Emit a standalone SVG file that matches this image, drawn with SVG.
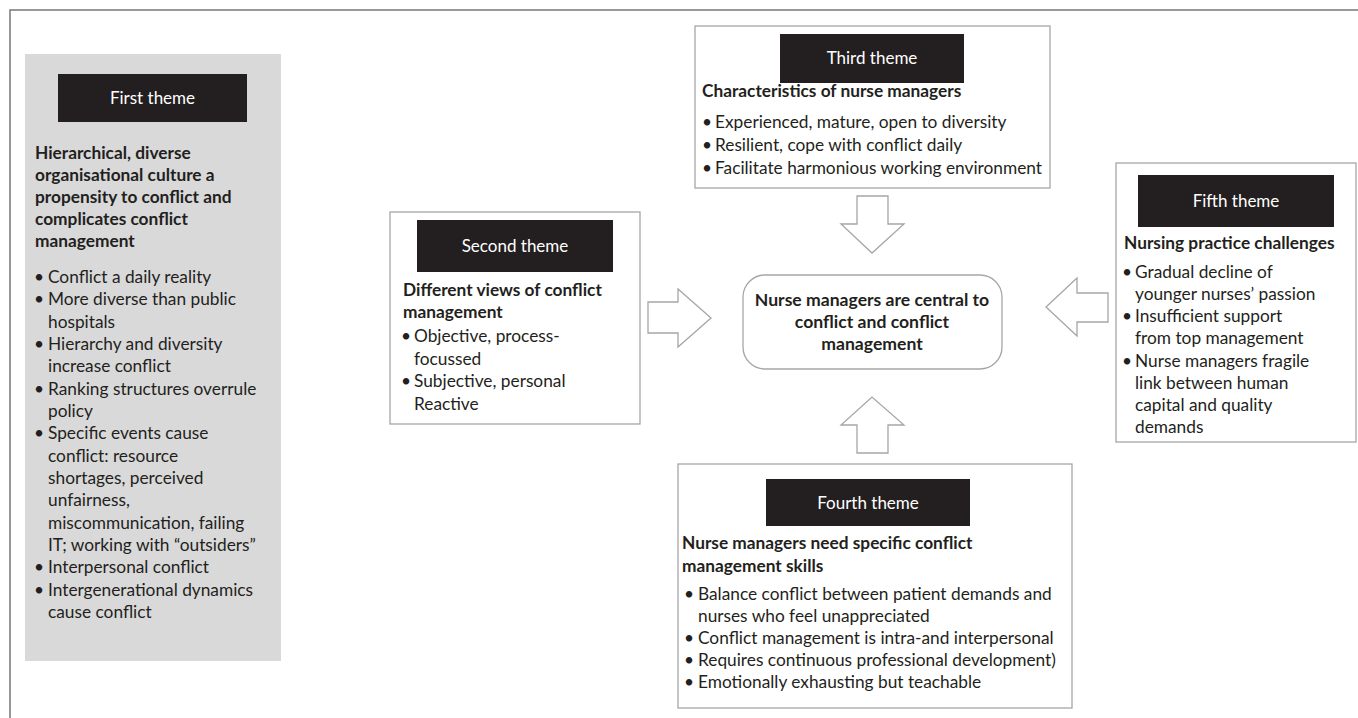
<svg xmlns="http://www.w3.org/2000/svg" width="1358" height="718" viewBox="0 0 1358 718">
<style>
  text { font-family: Lato, "Open Sans", "Liberation Sans", sans-serif; fill: #231f20; font-size: 17.3px; }
  .b { font-weight: bold; }
  .lbl { fill: #ffffff; text-anchor: middle; font-size: 17px; }
  .box { fill: #ffffff; stroke: #a6a6a6; stroke-width: 1.3; }
  .tag { fill: #231f20; }
  .arr { fill: #ffffff; stroke: #a6a6a6; stroke-width: 1.3; stroke-linejoin: miter; }
  .c { text-anchor: middle; font-size: 17.6px; font-weight: bold; }
</style>
<rect x="0" y="0" width="1358" height="718" fill="#ffffff"/>
<path d="M10 718 V10 H1358" fill="none" stroke="#777777" stroke-width="1.5"/>

<g id="first-theme">
  <rect x="25" y="54" width="256" height="607" fill="#d9d9d9"/>
  <rect class="tag" x="58" y="74" width="189" height="48"/>
  <text class="lbl" x="152.5" y="104">First theme</text>
  <text class="b" x="35" y="159">Hierarchical, diverse</text>
  <text class="b" x="35" y="181">organisational culture a</text>
  <text class="b" x="35" y="203">propensity to conflict and</text>
  <text class="b" x="35" y="225">complicates conflict</text>
  <text class="b" x="35" y="247">management</text>
  <text x="34" y="283">•</text><text x="48" y="283">Conflict a daily reality</text>
  <text x="34" y="305">•</text><text x="48" y="305">More diverse than public</text>
  <text x="48" y="328">hospitals</text>
  <text x="34" y="350">•</text><text x="48" y="350">Hierarchy and diversity</text>
  <text x="48" y="372">increase conflict</text>
  <text x="34" y="394.5">•</text><text x="48" y="394.5">Ranking structures overrule</text>
  <text x="48" y="417">policy</text>
  <text x="34" y="439">•</text><text x="48" y="439">Specific events cause</text>
  <text x="48" y="461.5">conflict: resource</text>
  <text x="48" y="484">shortages, perceived</text>
  <text x="48" y="506">unfairness,</text>
  <text x="48" y="528.5">miscommunication, failing</text>
  <text x="48" y="551">IT; working with “outsiders”</text>
  <text x="34" y="573">•</text><text x="48" y="573">Interpersonal conflict</text>
  <text x="34" y="595.5">•</text><text x="48" y="595.5">Intergenerational dynamics</text>
  <text x="48" y="618">cause conflict</text>
</g>

<g id="second-theme">
  <rect class="box" x="390" y="212" width="250" height="212"/>
  <rect class="tag" x="417" y="220" width="196" height="52"/>
  <text class="lbl" x="515" y="252">Second theme</text>
  <text class="b" x="403" y="296">Different views of conflict</text>
  <text class="b" x="403" y="318">management</text>
  <text x="401" y="342">•</text><text x="414" y="342">Objective, process-</text>
  <text x="414" y="365">focussed</text>
  <text x="401" y="387">•</text><text x="414" y="387">Subjective, personal</text>
  <text x="414" y="410">Reactive</text>
</g>

<g id="third-theme">
  <rect class="box" x="695" y="26" width="355" height="162"/>
  <rect class="tag" x="780" y="34" width="184" height="49"/>
  <text class="lbl" x="872" y="64">Third theme</text>
  <text class="b" x="702" y="97">Characteristics of nurse managers</text>
  <text x="702" y="128">•</text><text x="715" y="128">Experienced, mature, open to diversity</text>
  <text x="702" y="151">•</text><text x="715" y="151">Resilient, cope with conflict daily</text>
  <text x="702" y="174">•</text><text x="715" y="174">Facilitate harmonious working environment</text>
</g>

<g id="fifth-theme">
  <rect class="box" x="1116" y="163" width="240" height="279"/>
  <rect class="tag" x="1138" y="175" width="196" height="52"/>
  <text class="lbl" x="1236" y="207">Fifth theme</text>
  <text class="b" x="1124" y="249">Nursing practice challenges</text>
  <text x="1122" y="278">•</text><text x="1135" y="278">Gradual decline of</text>
  <text x="1135" y="300">younger nurses’ passion</text>
  <text x="1122" y="322">•</text><text x="1135" y="322">Insufficient support</text>
  <text x="1135" y="344">from top management</text>
  <text x="1122" y="367">•</text><text x="1135" y="367">Nurse managers fragile</text>
  <text x="1135" y="389">link between human</text>
  <text x="1135" y="411">capital and quality</text>
  <text x="1135" y="433">demands</text>
</g>

<g id="fourth-theme">
  <rect class="box" x="678" y="464" width="394" height="244"/>
  <rect class="tag" x="766" y="479" width="204" height="47"/>
  <text class="lbl" x="868" y="509">Fourth theme</text>
  <text class="b" x="682" y="549">Nurse managers need specific conflict</text>
  <text class="b" x="682" y="572">management skills</text>
  <text x="684" y="600">•</text><text x="698" y="600">Balance conflict between patient demands and</text>
  <text x="698" y="622">nurses who feel unappreciated</text>
  <text x="684" y="644">•</text><text x="698" y="644">Conflict management is intra-and interpersonal</text>
  <text x="684" y="666">•</text><text x="698" y="666">Requires continuous professional development)</text>
  <text x="684" y="688">•</text><text x="698" y="688">Emotionally exhausting but teachable</text>
</g>

<g id="center">
  <rect class="box" x="743" y="275" width="259" height="94" rx="22" ry="22"/>
  <text class="c" x="872" y="306">Nurse managers are central to</text>
  <text class="c" x="872" y="328">conflict and conflict</text>
  <text class="c" x="872" y="350">management</text>
</g>

<g id="connectors">
  <path class="arr" d="M648 302 H678 V289 L711 318 L678 347 V333 H648 Z"/>
  <path class="arr" d="M857 196 H888 V224 H904 L872 253 L841 224 H857 Z"/>
  <path class="arr" d="M857 453 V425 H841 L872 397 L904 425 H888 V453 Z"/>
  <path class="arr" d="M1108 293 H1077 V278 L1046 307 L1077 336 V322 H1108 Z"/>
</g>
</svg>
